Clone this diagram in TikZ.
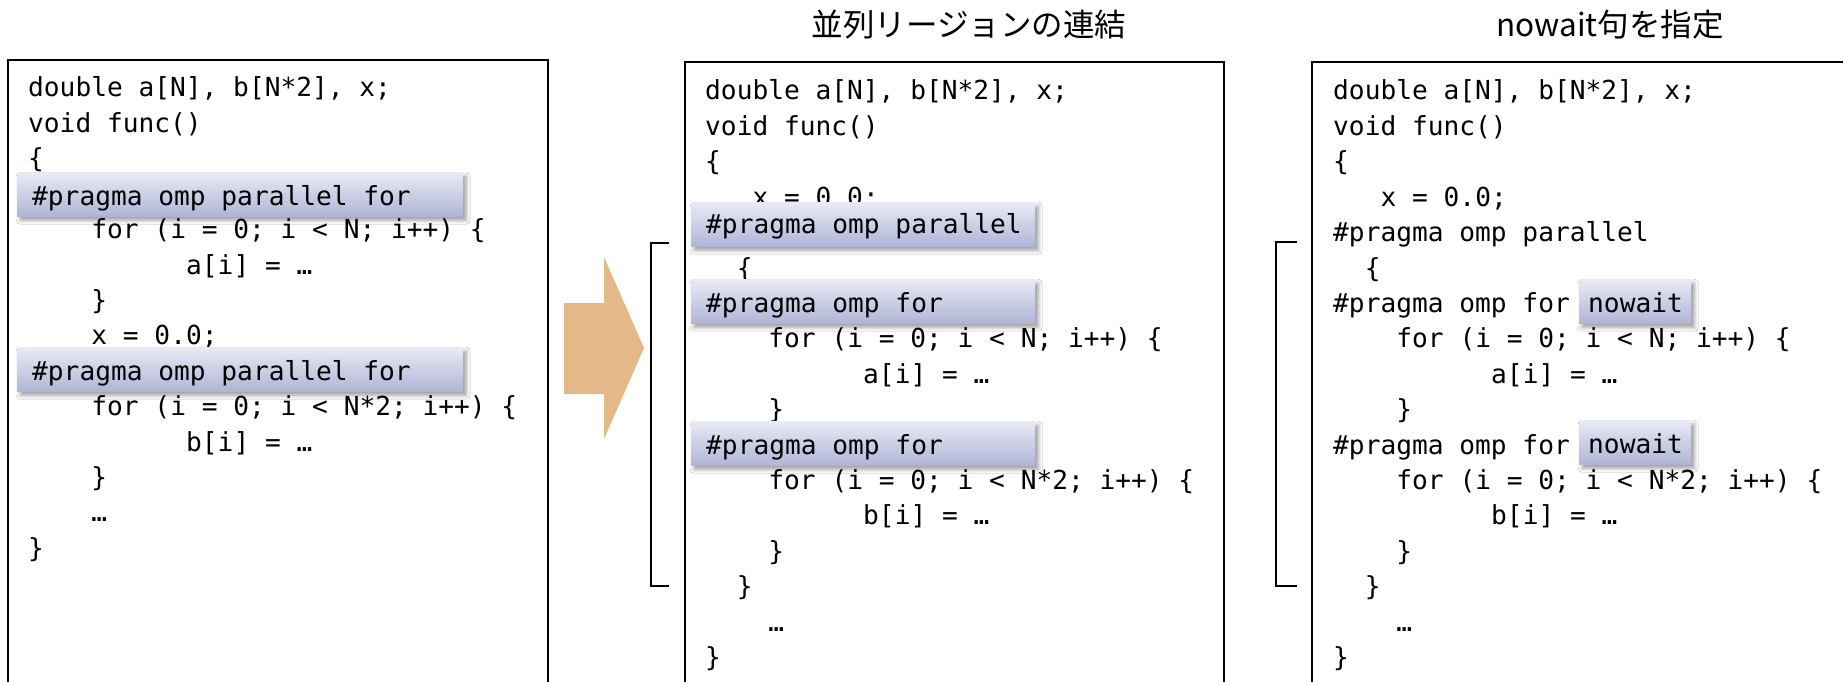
\documentclass[tikz,border=0pt]{standalone}
\usepackage{fontspec}
\newfontfamily\codefont{DejaVu Sans Mono}
\newfontfamily\jpfont{Noto Sans CJK JP}
\usetikzlibrary{shadows.blur}
\definecolor{arrowfill}{HTML}{E5B887}
\definecolor{hltop}{HTML}{E9EBF4}
\definecolor{hlbot}{HTML}{AFB5D7}

% one line of code: name, left x, indent (chars), first baseline, line number, text
\newcommand\codeln[6]{\node[code] (#1) at ({#2+#3*15.8},{#4+#5*35.4}) {#6};}

\begin{document}
\begin{tikzpicture}[x=1pt,y=-1pt,
  code/.style={font=\codefont\fontsize{26.2pt}{30pt}\selectfont, inner sep=0pt, anchor=base west},
  title/.style={font=\jpfont\fontsize{31.5pt}{36pt}\selectfont, inner sep=0pt, anchor=base},
  panel/.style={line width=1.8pt, line cap=butt},
  bracket/.style={line width=1.8pt},
  hl/.style={draw=none, top color=hltop, bottom color=hlbot, inner sep=0pt, anchor=north west,
    blur shadow={shadow xshift=3pt, shadow yshift=-4pt, shadow blur radius=4pt, shadow opacity=40}},
]
\useasboundingbox (0,0) rectangle (1843,682);
\fill[white] (0,0) rectangle (1843,682);

% headings
\node[title] (head2) at (969,37) {並列リージョンの連結};
\node[title] (head3) at (1610,37) {nowait句を指定};

% code panels (open at the bottom)
\draw[panel] (8,683) -- (8,60) -- (548,60) -- (548,683);
\draw[panel] (685,683) -- (685,62) -- (1224,62) -- (1224,683);
\draw[panel] (1312,683) -- (1312,62) -- (1844,62);

% block arrow between the first two panels
\fill[arrowfill] (564,303) -- (604,303) -- (604,257) -- (644,348) -- (604,439)
  -- (604,394) -- (564,394) -- cycle;

% brackets marking the parallel region
\coordinate (b2top) at (669,243);
\coordinate (b2bot) at (669,586);
\draw[bracket] (b2top) -- (651,243) -- (651,586) -- (b2bot);
\coordinate (b3top) at (1297,242);
\coordinate (b3bot) at (1297,586);
\draw[bracket] (b3top) -- (1276,242) -- (1276,586) -- (b3bot);

% panel 1
\codeln{a0}{28}{0}{97}{0}{double a[N], b[N*2], x;}
\codeln{a1}{28}{0}{97}{1}{void func()}
\codeln{a2}{28}{0}{97}{2}{\{}
\codeln{a4}{28}{4}{97}{4}{for (i = 0; i < N; i++) \{}
\codeln{a5}{28}{10}{97}{5}{a[i] = …}
\codeln{a6}{28}{4}{97}{6}{\}}
\codeln{a7}{28}{4}{97}{7}{x = 0.0;}
\codeln{a9}{28}{4}{97}{9}{for (i = 0; i < N*2; i++) \{}
\codeln{a10}{28}{10}{97}{10}{b[i] = …}
\codeln{a11}{28}{4}{97}{11}{\}}
\codeln{a12}{28}{4}{97}{12}{…}
\codeln{a13}{28}{0}{97}{13}{\}}

\node[hl, minimum width=446pt, minimum height=44pt] (h1) at (17,172) {};
\node[code] (h1t) at (32,205) {\#pragma omp parallel for};
\node[hl, minimum width=446pt, minimum height=44pt] (h2) at (17,347) {};
\node[code] (h2t) at (32,380) {\#pragma omp parallel for};

% panel 2
\codeln{b0}{705}{0}{100}{0}{double a[N], b[N*2], x;}
\codeln{b1}{705}{0}{100}{1}{void func()}
\codeln{b2}{705}{0}{100}{2}{\{}
\codeln{b3}{705}{3}{100}{3}{x = 0.0;}
\codeln{b5}{705}{2}{100}{5}{\{}
\codeln{b7}{705}{4}{100}{7}{for (i = 0; i < N; i++) \{}
\codeln{b8}{705}{10}{100}{8}{a[i] = …}
\codeln{b9}{705}{4}{100}{9}{\}}
\codeln{b11}{705}{4}{100}{11}{for (i = 0; i < N*2; i++) \{}
\codeln{b12}{705}{10}{100}{12}{b[i] = …}
\codeln{b13}{705}{4}{100}{13}{\}}
\codeln{b14}{705}{2}{100}{14}{\}}
\codeln{b15}{705}{4}{100}{15}{…}
\codeln{b16}{705}{0}{100}{16}{\}}

\node[hl, minimum width=344pt, minimum height=44pt] (h3) at (691,202) {};
\node[code] (h3t) at (706,233) {\#pragma omp parallel};
\node[hl, minimum width=344pt, minimum height=44pt] (h4) at (691,279) {};
\node[code] (h4t) at (706,312) {\#pragma omp for};
\node[hl, minimum width=344pt, minimum height=44pt] (h5) at (691,421) {};
\node[code] (h5t) at (706,454) {\#pragma omp for};

% panel 3
\codeln{c0}{1333}{0}{100}{0}{double a[N], b[N*2], x;}
\codeln{c1}{1333}{0}{100}{1}{void func()}
\codeln{c2}{1333}{0}{100}{2}{\{}
\codeln{c3}{1333}{3}{100}{3}{x = 0.0;}
\codeln{c4}{1333}{0}{100}{4}{\#pragma omp parallel}
\codeln{c5}{1333}{2}{100}{5}{\{}
\codeln{c6}{1333}{0}{100}{6}{\#pragma omp for}
\codeln{c7}{1333}{4}{100}{7}{for (i = 0; i < N; i++) \{}
\codeln{c8}{1333}{10}{100}{8}{a[i] = …}
\codeln{c9}{1333}{4}{100}{9}{\}}
\codeln{c10}{1333}{0}{100}{10}{\#pragma omp for}
\codeln{c11}{1333}{4}{100}{11}{for (i = 0; i < N*2; i++) \{}
\codeln{c12}{1333}{10}{100}{12}{b[i] = …}
\codeln{c13}{1333}{4}{100}{13}{\}}
\codeln{c14}{1333}{2}{100}{14}{\}}
\codeln{c15}{1333}{4}{100}{15}{…}
\codeln{c16}{1333}{0}{100}{16}{\}}

\node[hl, minimum width=112pt, minimum height=44pt] (n1) at (1579,279) {};
\node[code] (n1t) at (1588,312) {nowait};
\node[hl, minimum width=112pt, minimum height=44pt] (n2) at (1579,420) {};
\node[code] (n2t) at (1588,453) {nowait};
\end{tikzpicture}
\end{document}
